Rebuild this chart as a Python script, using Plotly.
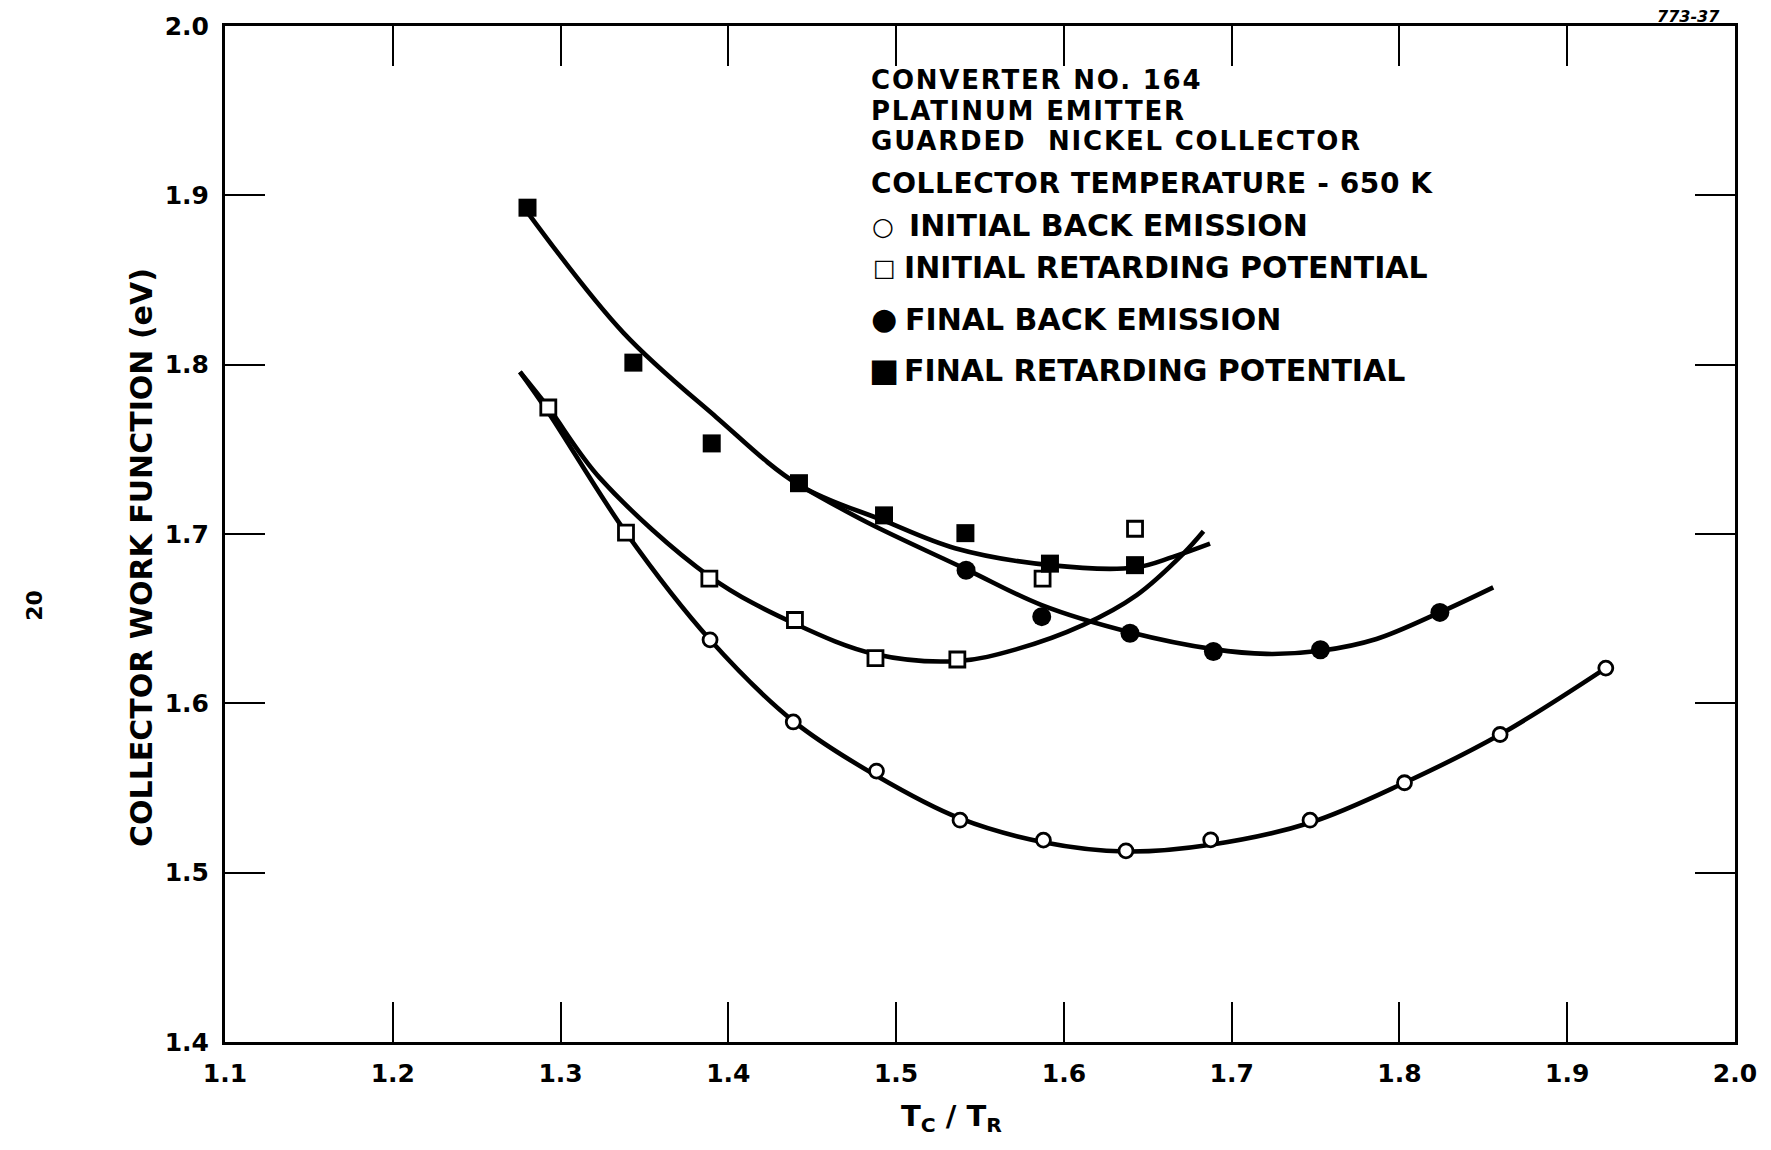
import plotly.graph_objects as go

# ---------------- data ----------------
# marker data
ibe_x = [1.3891, 1.4387, 1.4883, 1.5381, 1.5878, 1.6370, 1.6875, 1.7467, 1.803, 1.860, 1.923]
ibe_y = [1.6375, 1.5890, 1.5600, 1.5310, 1.5192, 1.5129, 1.5194, 1.5310, 1.5531, 1.5816, 1.6208]

irp_x = [1.2927, 1.3390, 1.3887, 1.4397, 1.4877, 1.5365, 1.5873, 1.6424]
irp_y = [1.7747, 1.7008, 1.6737, 1.6492, 1.6267, 1.6259, 1.6737, 1.7031]

fbe_x = [1.5417, 1.5868, 1.6394, 1.6891, 1.7529, 1.8241]
fbe_y = [1.6786, 1.6512, 1.6414, 1.6306, 1.6316, 1.6537]

frp_x = [1.2803, 1.3434, 1.3901, 1.4421, 1.4928, 1.5413, 1.5917, 1.6424]
frp_y = [1.8927, 1.8012, 1.7535, 1.7300, 1.7110, 1.7005, 1.6825, 1.6816]

# hand-drawn fitted curves (knots)
curve_frp_x = [1.2803, 1.3375, 1.3928, 1.4421, 1.4924, 1.5351, 1.5917, 1.6424, 1.6650, 1.6871]
curve_frp_y = [1.8900, 1.8188, 1.7690, 1.7290, 1.7080, 1.6916, 1.6816, 1.6802, 1.6865, 1.6943]

curve_fbe_x = [1.4421, 1.4823, 1.5421, 1.5868, 1.6394, 1.6891, 1.7207, 1.7529, 1.7863, 1.8241, 1.8559]
curve_fbe_y = [1.7290, 1.7071, 1.6790, 1.6580, 1.6420, 1.6320, 1.6292, 1.6310, 1.6380, 1.6537, 1.6685]

curve_irp_x = [1.2758, 1.2927, 1.3235, 1.3887, 1.4397, 1.4877, 1.5371, 1.5719, 1.6116, 1.6434, 1.6712, 1.6832]
curve_irp_y = [1.7957, 1.7747, 1.7330, 1.6750, 1.6470, 1.6290, 1.6250, 1.6320, 1.6463, 1.6639, 1.6884, 1.7016]

curve_ibe_x = [1.2758, 1.2927, 1.3390, 1.3891, 1.4387, 1.4883, 1.5381, 1.5878, 1.6370, 1.6875, 1.7467, 1.803, 1.860, 1.923]
curve_ibe_y = [1.7957, 1.7718, 1.7008, 1.6375, 1.5895, 1.5572, 1.5320, 1.5180, 1.5125, 1.5165, 1.5295, 1.5531, 1.5816, 1.6208]

x_ticks = [1.1, 1.2, 1.3, 1.4, 1.5, 1.6, 1.7, 1.8, 1.9, 2.0]
y_ticks = [1.4, 1.5, 1.6, 1.7, 1.8, 1.9, 2.0]

header_lines = ["CONVERTER NO. 164", "PLATINUM EMITTER", "GUARDED  NICKEL COLLECTOR",
                "COLLECTOR TEMPERATURE - 650 K"]
series_names = ["INITIAL BACK EMISSION", "INITIAL RETARDING POTENTIAL",
                "FINAL BACK EMISSION", "FINAL RETARDING POTENTIAL"]
legend_glyphs = ["○", "□", "●", "■"]

# ---------------- figure ----------------
W, H = 1771, 1150
L, R, T, B = 225, 36, 22, 108
PW, PH = W - L - R, H - T - B
FONT = "DejaVu Sans"


def px2paper(px, py):
    return (px - L) / PW, (H - B - py) / PH


fig = go.Figure()

line_style = dict(color="black", width=4.6, shape="spline", smoothing=1.0)
for cx, cy in [(curve_frp_x, curve_frp_y), (curve_fbe_x, curve_fbe_y),
               (curve_irp_x, curve_irp_y), (curve_ibe_x, curve_ibe_y)]:
    fig.add_trace(go.Scatter(x=cx, y=cy, mode="lines", line=line_style,
                             hoverinfo="skip", showlegend=False))

fig.add_trace(go.Scatter(x=ibe_x, y=ibe_y, mode="markers", name=series_names[0],
                         marker=dict(symbol="circle", size=14, color="white",
                                     line=dict(color="black", width=2.8))))
fig.add_trace(go.Scatter(x=irp_x, y=irp_y, mode="markers", name=series_names[1],
                         marker=dict(symbol="square", size=15, color="white",
                                     line=dict(color="black", width=2.8))))
fig.add_trace(go.Scatter(x=fbe_x, y=fbe_y, mode="markers", name=series_names[2],
                         marker=dict(symbol="circle", size=19, color="black",
                                     line=dict(color="black", width=0))))
fig.add_trace(go.Scatter(x=frp_x, y=frp_y, mode="markers", name=series_names[3],
                         marker=dict(symbol="square", size=18, color="black",
                                     line=dict(color="black", width=0))))

axis_common = dict(showline=True, linecolor="black", linewidth=3, mirror="ticks",
                   ticks="inside", ticklen=40, tickwidth=2.2, tickcolor="black",
                   showgrid=False, zeroline=False, tickformat=".1f",
                   tickfont=dict(family=FONT, size=25, color="black", weight="bold"))

fig.update_xaxes(range=[1.1, 2.0], tickvals=x_ticks, ticklabelstandoff=7, **axis_common)
fig.update_yaxes(range=[1.4, 2.0], tickvals=y_ticks, ticklabelstandoff=8, **axis_common)

ann = []
# axis titles
xp, yp = px2paper(951, 1118)
ann.append(dict(x=xp, y=yp, xref="paper", yref="paper", showarrow=False,
                text="<b>T<sub>C</sub> / T<sub>R</sub></b>",
                font=dict(family=FONT, size=29, color="black"),
                xanchor="center", yanchor="middle"))
xp, yp = px2paper(142, 556)
ann.append(dict(x=xp, y=yp, xref="paper", yref="paper", showarrow=False,
                text="<b>COLLECTOR WORK FUNCTION (eV)</b>", textangle=-90,
                font=dict(family=FONT, size=30, color="black"),
                xanchor="center", yanchor="middle"))
# header text block (tightly stacked lines, as in the original lettering)
header_sizes = [26, 26, 26, 28]
header_spacing = ["1.8px", "1.8px", "1.8px", "0.6px"]
for txt, py, fs, ls in zip(header_lines, [76.5, 107, 137.5, 180.5], header_sizes, header_spacing):
    xp, yp = px2paper(869, py)
    ann.append(dict(x=xp, y=yp, xref="paper", yref="paper", showarrow=False,
                    text='<span style="letter-spacing:%s"><b>%s</b></span>' % (ls, txt),
                    xanchor="left", yanchor="middle",
                    font=dict(family=FONT, size=fs, color="black")))
# legend keys (glyphs) and labels
glyph_sizes = [25, 24, 30, 32]
glyph_pos = [(883, 223), (884, 265), (884, 316), (884, 367)]
label_pos = [(907, 222), (902, 264.5), (903, 316.5), (902, 367.5)]
for g, gs, (gx, gy), name, (lx, ly) in zip(legend_glyphs, glyph_sizes, glyph_pos,
                                          series_names, label_pos):
    xp, yp = px2paper(gx, gy)
    ann.append(dict(x=xp, y=yp, xref="paper", yref="paper", showarrow=False,
                    text=g, xanchor="center", yanchor="middle",
                    font=dict(family=FONT, size=gs, color="black")))
    xp, yp = px2paper(lx, ly)
    ann.append(dict(x=xp, y=yp, xref="paper", yref="paper", showarrow=False,
                    text="<b>%s</b>" % name, xanchor="left", yanchor="middle",
                    font=dict(family=FONT, size=30, color="black")))
# figure number at top right corner
xp, yp = px2paper(1688, 1)
ann.append(dict(x=xp, y=yp, xref="paper", yref="paper", showarrow=False,
                text="<b><i>773-37</i></b>", xanchor="center", yanchor="top",
                font=dict(family=FONT, size=16, color="black")))
# page number in margin
xp, yp = px2paper(35, 604)
ann.append(dict(x=xp, y=yp, xref="paper", yref="paper", showarrow=False,
                text="<b>20</b>", textangle=-90, xanchor="center", yanchor="middle",
                font=dict(family=FONT, size=22, color="black")))

fig.update_layout(width=W, height=H, margin=dict(l=L, r=R, t=T, b=B, pad=0),
                  paper_bgcolor="white", plot_bgcolor="white", showlegend=False,
                  annotations=ann)

fig.write_html("out.html", config={"displayModeBar": False},
               post_script="document.body.style.margin='0px';")
